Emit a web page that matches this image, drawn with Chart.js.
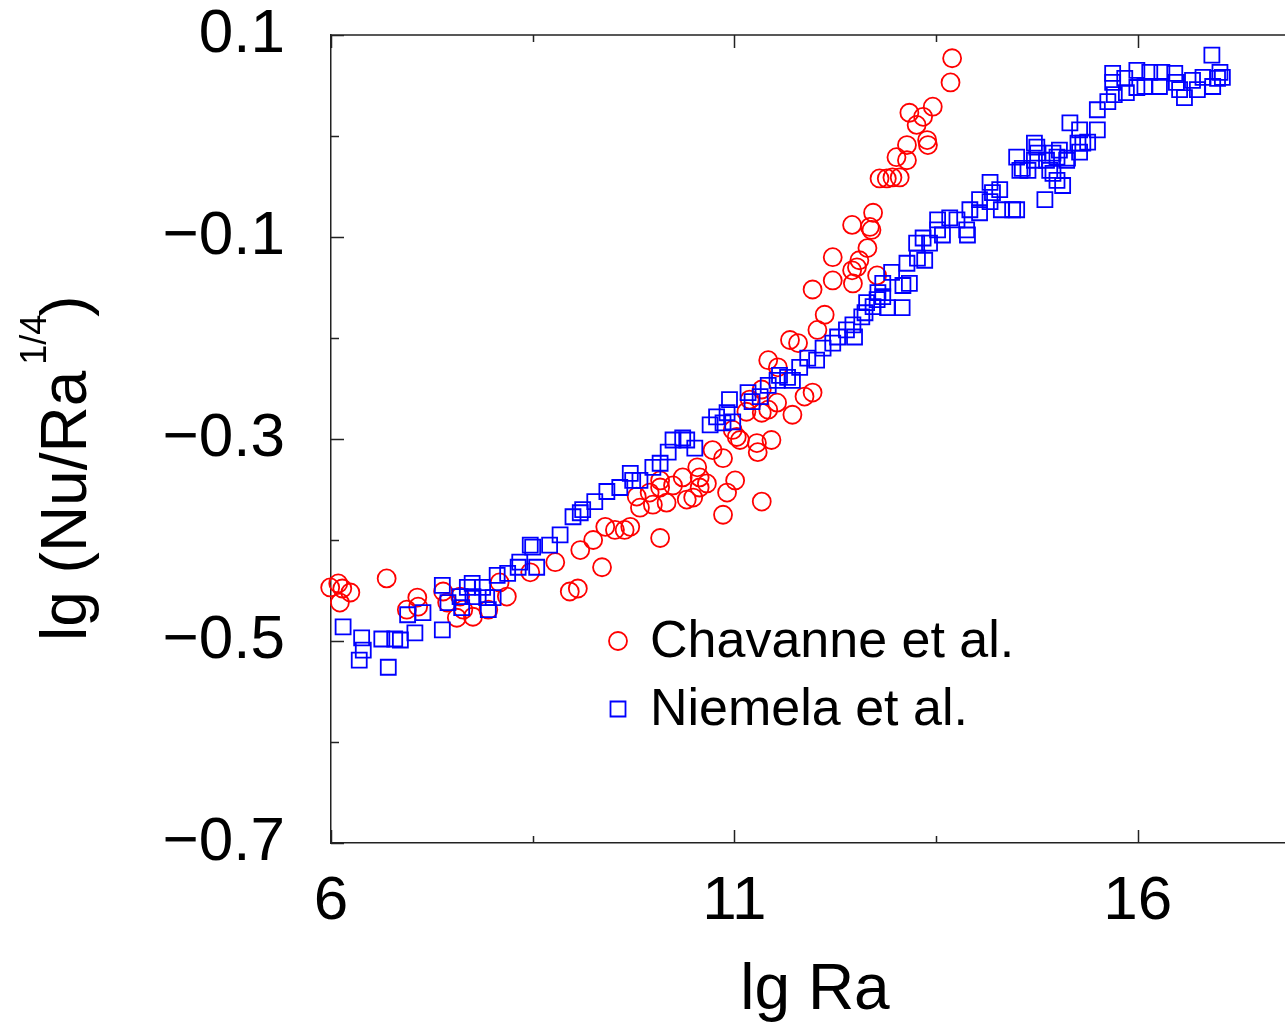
<!DOCTYPE html>
<html>
<head>
<meta charset="utf-8">
<script src="https://cdn.jsdelivr.net/npm/chart.js@4.4.1/dist/chart.umd.min.js"></script>
<style>
  html, body { margin: 0; padding: 0; background: #fff; width: 1285px; height: 1023px; overflow: hidden; }
  #chart { display: block; }
</style>
</head>
<body>
<canvas id="chart" width="1320" height="1023"></canvas>
<script>
// Chavanne et al. (kreise)
const chavanneLgRa = [5.99,6.09,6.14,6.24,6.11,6.69,7.07,6.94,7.08,7.39,
  7.44,7.56,7.76,7.64,7.95,8.18,8.09,8.47,8.78,9.36,
  8.96,9.06,7.60,9.09,9.25,9.40,9.52,9.64,9.71,10.08,
  9.83,9.99,10.16,9.79,9.95,10.08,10.24,10.41,10.57,10.66,
  10.08,10.36,10.86,10.91,11.01,10.73,10.86,10.98,11.07,10.54,
  11.97,12.22,12.47,11.69,11.79,12.12,12.03,11.42,11.54,11.34,
  11.53,11.42,11.19,11.15,11.97,11.87,11.72,11.34,11.46,11.28,
  11.29,11.03,10.57,11.34,10.49,
  13.70,13.68,13.46,13.17,13.34,13.26,13.39,13.40,13.14,13.01,
  13.14,12.80,12.89,12.96,13.05,12.72,12.46,12.68,12.70,12.65,
  12.55,12.52,12.22,12.46,12.77];
const chavanneLgNu = [-0.447,-0.443,-0.448,-0.452,-0.462,-0.438,-0.457,-0.469,-0.466,-0.451,
  -0.462,-0.477,-0.476,-0.469,-0.469,-0.456,-0.442,-0.432,-0.422,-0.427,
  -0.451,-0.448,-0.456,-0.410,-0.400,-0.387,-0.390,-0.390,-0.387,-0.398,
  -0.368,-0.365,-0.363,-0.357,-0.353,-0.348,-0.346,-0.360,-0.348,-0.344,
  -0.341,-0.338,-0.375,-0.353,-0.341,-0.311,-0.319,-0.291,-0.301,-0.328,
  -0.152,-0.143,-0.146,-0.202,-0.205,-0.177,-0.192,-0.222,-0.229,-0.251,
  -0.264,-0.271,-0.261,-0.273,-0.254,-0.258,-0.276,-0.274,-0.301,-0.304,
  -0.313,-0.298,-0.338,-0.362,-0.358,
  0.077,0.053,0.029,0.023,0.019,0.011,-0.004,-0.009,-0.009,-0.021,
  -0.024,-0.042,-0.042,-0.041,-0.041,-0.076,-0.088,-0.090,-0.093,-0.111,
  -0.123,-0.130,-0.120,-0.133,-0.138];

// Niemela et al. (quadrate)
const niemelaLgRa = [6.15,6.38,6.40,6.35,6.63,6.71,6.79,6.86,6.95,7.04,
  7.14,7.38,7.38,7.45,7.60,7.62,7.69,7.75,7.76,7.88,
  7.93,7.95,8.01,8.06,8.19,8.32,8.55,8.34,8.47,8.50,
  8.71,8.84,9.00,9.09,9.12,9.27,9.42,9.58,9.71,9.74,
  9.83,9.99,10.08,10.18,10.24,10.41,10.51,10.70,10.86,10.98,
  10.36,10.78,10.91,10.94,11.17,11.22,11.32,11.42,11.53,11.56,
  11.66,11.72,11.81,11.91,12.02,12.10,12.22,12.28,12.39,12.47,
  12.49,12.58,12.62,12.72,12.77,12.78,12.64,12.84,12.90,13.08,
  12.84,12.95,13.09,13.17,13.14,13.27,13.36,13.26,13.34,13.42,
  13.52,13.52,13.58,13.67,13.76,13.88,13.89,13.92,14.04,14.04,
  14.17,14.20,14.29,14.31,14.45,14.50,14.85,15.07,15.00,14.50,
  14.57,14.72,14.87,15.00,15.13,14.91,15.28,15.32,14.75,14.17,
  14.54,14.64,14.72,14.76,14.95,15.03,15.12,14.95,15.16,15.28,
  15.26,15.38,15.50,15.50,15.63,15.69,15.69,15.71,15.86,15.84,
  15.99,15.99,16.15,16.09,16.27,16.30,16.46,16.48,16.52,16.58,
  16.68,16.74,16.81,16.93,16.92,17.02,17.05,16.99];
const niemelaLgNu = [-0.486,-0.497,-0.509,-0.519,-0.498,-0.526,-0.498,-0.499,-0.474,-0.492,
  -0.472,-0.489,-0.445,-0.462,-0.456,-0.467,-0.447,-0.443,-0.456,-0.447,
  -0.457,-0.469,-0.457,-0.435,-0.433,-0.427,-0.427,-0.422,-0.405,-0.407,
  -0.405,-0.395,-0.377,-0.373,-0.370,-0.362,-0.352,-0.348,-0.334,-0.341,
  -0.341,-0.328,-0.324,-0.313,-0.301,-0.301,-0.309,-0.286,-0.284,-0.283,
  -0.299,-0.278,-0.274,-0.261,-0.254,-0.263,-0.258,-0.247,-0.242,-0.237,
  -0.239,-0.242,-0.229,-0.220,-0.222,-0.210,-0.205,-0.199,-0.192,-0.187,
  -0.199,-0.179,-0.175,-0.169,-0.162,-0.155,-0.165,-0.159,-0.170,-0.170,
  -0.146,-0.135,-0.148,-0.146,-0.126,-0.121,-0.123,-0.106,-0.101,-0.106,
  -0.093,-0.083,-0.098,-0.081,-0.083,-0.093,-0.098,-0.073,-0.076,-0.063,
  -0.046,-0.056,-0.053,-0.073,-0.073,-0.073,-0.063,-0.049,-0.044,-0.021,
  -0.032,-0.024,-0.024,-0.021,-0.022,-0.034,-0.016,-0.007,-0.011,-0.065,
  -0.034,-0.034,-0.007,-0.017,-0.017,-0.014,-0.024,-0.037,0.013,0.006,
  -0.007,-0.006,0.006,0.026,0.034,0.062,0.053,0.041,0.043,0.057,
  0.065,0.048,0.063,0.049,0.049,0.063,0.062,0.053,0.046,0.038,
  0.055,0.046,0.058,0.049,0.080,0.063,0.058,0.057];

// Achsen: Tickpositionen und beschriftete Werte
const xTickValues = [6, 8.5, 11, 13.5, 16, 18];
const xMajorTicks = [6, 11, 16];
const yMajorTicks = [0.1, -0.1, -0.3, -0.5, -0.7];
const seriesNames = ['Chavanne et al.', 'Niemela et al.'];

const FONT = 'Liberation Sans, Arial, Helvetica, sans-serif';
const AXIS_COLOR = '#222';
const MARK_WIDTH = 1.8;

function toPoints(xs, ys) {
  return xs.map((x, i) => ({ x: x, y: ys[i] }));
}

function isIn(list, v) {
  return list.some(t => Math.abs(t - v) < 1e-6);
}

function fmt(v) {
  const s = Math.abs(v).toFixed(1);
  return v < -1e-9 ? '\u2212' + s : s;
}

// Rahmen oben/rechts und nach innen zeigende Ticks
const frameTicks = {
  id: 'frameTicks',
  afterDatasetsDraw(chart) {
    const { ctx, chartArea: a, scales: { x, y } } = chart;
    ctx.save();
    ctx.strokeStyle = AXIS_COLOR;
    ctx.lineWidth = 1.5;
    ctx.beginPath();
    ctx.moveTo(a.left, a.top);
    ctx.lineTo(a.right, a.top);
    ctx.lineTo(a.right, a.bottom);
    x.ticks.forEach(t => {
      const px = Math.round(x.getPixelForValue(t.value)) + 0.5;
      const len = t.label ? 13 : 7;
      ctx.moveTo(px, a.bottom); ctx.lineTo(px, a.bottom - len);
      ctx.moveTo(px, a.top); ctx.lineTo(px, a.top + len);
    });
    y.ticks.forEach(t => {
      const py = Math.round(y.getPixelForValue(t.value)) + 0.5;
      const len = t.label ? 13 : 8;
      ctx.moveTo(a.left, py); ctx.lineTo(a.left + len, py);
      ctx.moveTo(a.right, py); ctx.lineTo(a.right - len, py);
    });
    ctx.stroke();
    ctx.restore();
  }
};

// y-Achsentitel mit Hochstellung
const yTitle = {
  id: 'yTitle',
  afterDraw(chart) {
    const ctx = chart.ctx;
    const a = chart.chartArea;
    ctx.save();
    ctx.fillStyle = '#000';
    ctx.textBaseline = 'alphabetic';
    ctx.textAlign = 'left';
    ctx.translate(86, a.bottom - 202);
    ctx.rotate(-Math.PI / 2);
    ctx.font = '64px ' + FONT;
    const main = 'lg (Nu/Ra';
    const w = ctx.measureText(main).width;
    ctx.fillText(main, 0, 0);
    ctx.font = '36px ' + FONT;
    const sup = '1/4';
    const sw = ctx.measureText(sup).width;
    ctx.fillText(sup, w + 6, -40);
    ctx.font = '64px ' + FONT;
    ctx.fillText(')', w + 6 + sw - 2, 0);
    ctx.restore();
  }
};

// Legende innerhalb der Zeichenfläche
const innerLegend = {
  id: 'innerLegend',
  afterDraw(chart) {
    const ctx = chart.ctx;
    const a = chart.chartArea;
    const x0 = a.left + 287;
    const rows = [a.bottom - 202, a.bottom - 134];
    ctx.save();
    chart.data.datasets.forEach((ds, i) => {
      const cy = rows[i];
      ctx.strokeStyle = ds.borderColor;
      ctx.lineWidth = ds.borderWidth;
      ctx.beginPath();
      if (ds.pointStyle === 'circle') {
        ctx.arc(x0, cy, 9, 0, Math.PI * 2);
      } else {
        ctx.rect(x0 - 7.5, cy - 7.5, 15, 15);
      }
      ctx.stroke();
      ctx.fillStyle = '#000';
      ctx.font = '52px ' + FONT;
      ctx.textBaseline = 'alphabetic';
      ctx.textAlign = 'left';
      ctx.fillText(ds.label, x0 + 32, cy + 16);
    });
    ctx.restore();
  }
};

const ctx = document.getElementById('chart').getContext('2d');
new Chart(ctx, {
  type: 'scatter',
  data: {
    datasets: [
      {
        label: seriesNames[0],
        data: toPoints(chavanneLgRa, chavanneLgNu),
        pointStyle: 'circle',
        pointRadius: 9,
        pointHoverRadius: 9,
        borderColor: '#ff0000',
        backgroundColor: 'rgba(0,0,0,0)',
        borderWidth: MARK_WIDTH,
        clip: false,
        order: 2
      },
      {
        label: seriesNames[1],
        data: toPoints(niemelaLgRa, niemelaLgNu),
        pointStyle: 'rect',
        pointRadius: 10.6,
        pointHoverRadius: 10.6,
        borderColor: '#0000ff',
        backgroundColor: 'rgba(0,0,0,0)',
        borderWidth: MARK_WIDTH,
        clip: false,
        order: 1
      }
    ]
  },
  options: {
    responsive: false,
    animation: false,
    devicePixelRatio: 1,
    layout: { padding: { left: 0, top: 35, right: 21, bottom: 0 } },
    plugins: {
      legend: { display: false },
      tooltip: { enabled: false }
    },
    scales: {
      x: {
        type: 'linear',
        min: 6,
        max: 18,
        grid: { display: false, drawTicks: false },
        border: { display: true, color: AXIS_COLOR, width: 1.5 },
        afterBuildTicks: s => { s.ticks = xTickValues.map(v => ({ value: v })); },
        ticks: {
          autoSkip: false,
          maxRotation: 0,
          padding: 22,
          color: '#000',
          font: { family: FONT, size: 62 },
          callback: v => isIn(xMajorTicks, v) ? String(v) : ''
        },
        title: {
          display: true,
          text: 'lg Ra',
          color: '#000',
          font: { family: FONT, size: 64, lineHeight: 1 },
          padding: 0
        },
        afterFit: s => { s.height = 180; s.paddingLeft = 0; s.paddingRight = 0; }
      },
      y: {
        type: 'linear',
        min: -0.7,
        max: 0.1,
        grid: { display: false, drawTicks: false },
        border: { display: true, color: AXIS_COLOR, width: 1.5 },
        ticks: {
          stepSize: 0.1,
          autoSkip: false,
          padding: 46,
          color: '#000',
          font: { family: FONT, size: 62 },
          callback: v => isIn(yMajorTicks, v) ? fmt(v) : ''
        },
        afterFit: s => { s.width = 331; s.paddingTop = 0; s.paddingBottom = 0; }
      }
    }
  },
  plugins: [frameTicks, yTitle, innerLegend]
});
</script>
</body>
</html>
